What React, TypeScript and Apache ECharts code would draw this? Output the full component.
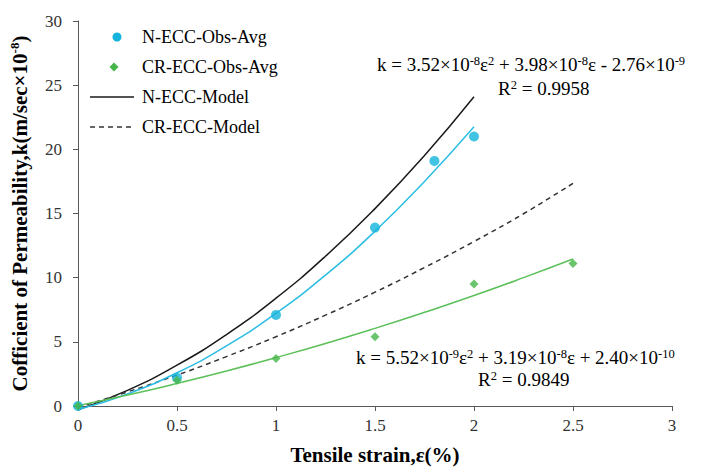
import React, { useEffect, useRef } from "react";
import * as echarts from "echarts";

const strainModel = [0, 0.25, 0.5, 0.75, 1, 1.25, 1.5, 1.75, 2];
const nModel = [-0.3, 1.22, 3.18, 5.57, 8.4, 11.67, 15.38, 19.52, 24.1];
const strainModelCR = [0, 0.25, 0.5, 0.75, 1, 1.25, 1.5, 1.75, 2, 2.25, 2.5];
const crModel = [-0.1, 1.1, 2.41, 3.85, 5.4, 7.08, 8.87, 10.79, 12.82, 14.98, 17.35];

const nTrend = [-0.28, 0.94, 2.59, 4.69, 7.22, 10.2, 13.62, 17.5, 21.76];
const crTrend = [0.02, 0.85, 1.76, 2.73, 3.77, 4.87, 6.05, 7.3, 8.61, 10.0, 11.45];

const nObsX = [0, 0.5, 1, 1.5, 1.8, 2];
const nObsY = [0, 2.2, 7.1, 13.9, 19.1, 21.0];
const crObsX = [0, 0.5, 1, 1.5, 2, 2.5];
const crObsY = [0, 2.0, 3.7, 5.4, 9.5, 11.1];

const legendNames = ["N-ECC-Obs-Avg", "CR-ECC-Obs-Avg", "N-ECC-Model", "CR-ECC-Model"];

const xTicks = { min: 0, max: 3, interval: 0.5 };
const yTicks = { min: 0, max: 30, interval: 5 };

const FONT = "'Liberation Serif', 'Times New Roman', serif";
const BLUE = "#14b4dc";
const GREEN = "#46b648";

const zip = (xs: number[], ys: number[]) => xs.map((x, i) => [x, ys[i]]);

export default function App() {
  const ref = useRef<HTMLDivElement>(null);
  useEffect(() => {
    if (!ref.current) return;
    const chart = echarts.init(ref.current, undefined, { renderer: "svg" });
    const sup = { fontSize: 12.5, verticalAlign: "top", lineHeight: 12, fontFamily: FONT, fill: "#000" };
    const eqStyle = (text: string) => ({
      text,
      fontFamily: FONT,
      fontSize: 19,
      lineHeight: 20,
      fill: "#000",
      rich: { s: sup },
    });
    const legendRowY = [37, 67, 97, 127];
    const legendText = legendNames.map((n, i) => ({
      type: "text",
      x: 142,
      y: legendRowY[i],
      style: { text: n, fontFamily: FONT, fontSize: 18, fill: "#000", verticalAlign: "middle", align: "left" },
    }));
    chart.setOption({
      animation: false,
      backgroundColor: "#fff",
      grid: { left: 75, right: 34, top: 21, bottom: 58 },
      xAxis: {
        type: "value",
        ...xTicks,
        name: "Tensile strain,ε(%)",
        nameLocation: "middle",
        nameGap: 38,
        nameTextStyle: { fontFamily: FONT, fontWeight: "bold", fontSize: 21, color: "#000" },
        splitLine: { show: false },
        axisLine: { lineStyle: { color: "#595959", width: 1 } },
        axisTick: { show: true, inside: false, length: 5, lineStyle: { color: "#595959" } },
        axisLabel: { fontFamily: FONT, fontSize: 17, color: "#333", margin: 11 },
      },
      yAxis: {
        type: "value",
        ...yTicks,
        name: "Cofficient of Permeability,k(m/sec×10{s|-8})",
        nameLocation: "middle",
        nameGap: 46,
        nameRotate: 90,
        nameTextStyle: {
          fontFamily: FONT,
          fontWeight: "bold",
          fontSize: 21,
          color: "#000",
          lineHeight: 24,
          rich: { s: { fontSize: 13, fontWeight: "bold", verticalAlign: "top", lineHeight: 13, fontFamily: FONT, color: "#000" } },
        },
        splitLine: { show: false },
        axisLine: { show: true, lineStyle: { color: "#595959", width: 1 } },
        axisTick: { show: true, inside: false, length: 5, lineStyle: { color: "#595959" } },
        axisLabel: { fontFamily: FONT, fontSize: 17, color: "#333", margin: 16 },
      },
      graphic: [
        { type: "circle", shape: { cx: 117, cy: legendRowY[0], r: 4.5 }, style: { fill: BLUE } },
        {
          type: "polygon",
          shape: { points: [[114, legendRowY[1] - 4.5], [118.5, legendRowY[1]], [114, legendRowY[1] + 4.5], [109.5, legendRowY[1]]] },
          style: { fill: GREEN },
        },
        { type: "line", shape: { x1: 90, y1: legendRowY[2], x2: 134, y2: legendRowY[2] }, style: { stroke: "#1a1a1a", lineWidth: 1.5 } },
        { type: "line", shape: { x1: 90, y1: legendRowY[3], x2: 134, y2: legendRowY[3] }, style: { stroke: "#333", lineWidth: 1.5, lineDash: [5, 4] } },
        ...legendText,
        { type: "text", left: 377, top: 54, style: eqStyle("k = 3.52×10{s|-8}ε{s|2} + 3.98×10{s|-8}ε - 2.76×10{s|-9}") },
        { type: "text", left: 498, top: 78, style: eqStyle("R{s|2} = 0.9958") },
        { type: "text", left: 356, top: 347, style: eqStyle("k = 5.52×10{s|-9}ε{s|2} + 3.19×10{s|-8}ε + 2.40×10{s|-10}") },
        { type: "text", left: 478, top: 369, style: eqStyle("R{s|2} = 0.9849") },
      ],
      series: [
        {
          name: "N-ECC-Model",
          type: "line",
          data: zip(strainModel, nModel),
          smooth: true,
          symbol: "none",
          clip: false,
          lineStyle: { color: "#1a1a1a", width: 1.5 },
          z: 2,
        },
        {
          name: "CR-ECC-Model",
          type: "line",
          data: zip(strainModelCR, crModel),
          smooth: true,
          symbol: "none",
          clip: false,
          lineStyle: { color: "#333", width: 1.5, type: [5, 4] },
          z: 2,
        },
        {
          name: "N-ECC-Trend",
          type: "line",
          data: zip(strainModel, nTrend),
          smooth: true,
          symbol: "none",
          clip: false,
          lineStyle: { color: "#2bbde3", width: 1.5 },
          z: 2,
        },
        {
          name: "CR-ECC-Trend",
          type: "line",
          data: zip(strainModelCR, crTrend),
          smooth: true,
          symbol: "none",
          clip: false,
          lineStyle: { color: "#5cc059", width: 1.5 },
          z: 2,
        },
        {
          name: legendNames[0],
          type: "scatter",
          data: zip(nObsX, nObsY),
          symbol: "circle",
          symbolSize: 10,
          clip: false,
          itemStyle: { color: BLUE },
          z: 3,
        },
        {
          name: legendNames[1],
          type: "scatter",
          data: zip(crObsX, crObsY),
          symbol: "diamond",
          symbolSize: 9,
          clip: false,
          itemStyle: { color: GREEN },
          z: 3,
        },
      ],
    });
    return () => chart.dispose();
  }, []);
  return <div ref={ref} style={{ position: "fixed", left: 0, top: 0, width: 706, height: 470 }} />;
}
